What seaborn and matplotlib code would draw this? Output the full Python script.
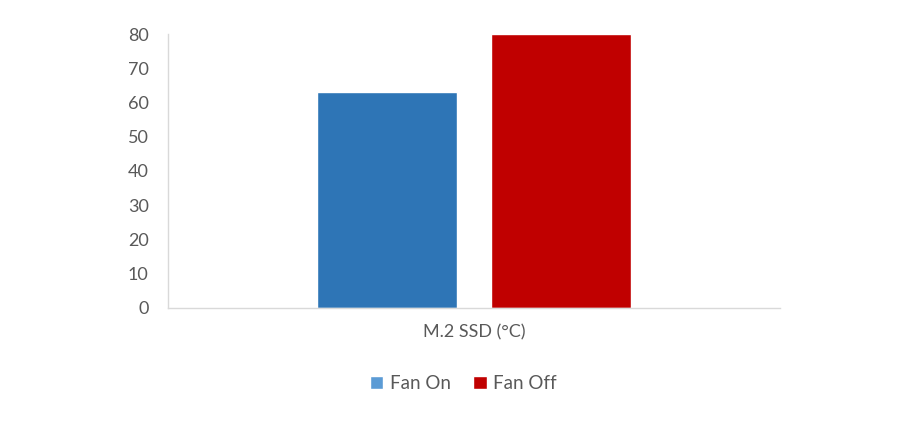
import matplotlib
matplotlib.use("Agg")
import matplotlib.pyplot as plt
import seaborn as sns
import pandas as pd
from matplotlib.patches import Patch

category = ["M.2 SSD (°C)"]
series = ["Fan On", "Fan Off"]
fan_on = [63]
fan_off = [80]
bar_colors = ["#2E75B6", "#C00000"]
legend_colors = ["#5B9BD5", "#C00000"]

df = pd.DataFrame({
    "cat": category * 2,
    "series": [series[0]] * len(fan_on) + [series[1]] * len(fan_off),
    "temp": fan_on + fan_off,
})

sns.set_theme(style="white")
plt.rcParams["font.family"] = ["Lato", "DejaVu Sans"]

fig = plt.figure(figsize=(9, 4.24), dpi=100)
ax = fig.add_axes([0.1867, 0.2736, 0.68, 0.6462])

sns.barplot(data=df, x="cat", y="temp", hue="series", palette=bar_colors,
            width=0.57, gap=0.2, saturation=1, legend=False, ax=ax)

ax.set_xlim(-0.5, 0.5)
ax.set_ylim(0, 80)
ax.set_yticks(range(0, 81, 10))
ax.set_xlabel("")
ax.set_ylabel("")
ax.tick_params(axis="both", length=0, colors="#595959", labelsize=13)
ax.tick_params(axis="y", pad=14)
ax.tick_params(axis="x", pad=12)
for s in ["top", "right"]:
    ax.spines[s].set_visible(False)
for s in ["left", "bottom"]:
    ax.spines[s].set_color("#D9D9D9")
    ax.spines[s].set_linewidth(1)

handles = [Patch(facecolor=c, label=l) for c, l in zip(legend_colors, series)]
fig.legend(handles=handles, loc="center", bbox_to_anchor=(0.515, 0.095), ncol=2,
           frameon=False, fontsize=13.5, handlelength=0.7, handleheight=0.7,
           handletextpad=0.35, columnspacing=1.2, labelcolor="#595959")

fig.savefig("out.png", dpi=100)
